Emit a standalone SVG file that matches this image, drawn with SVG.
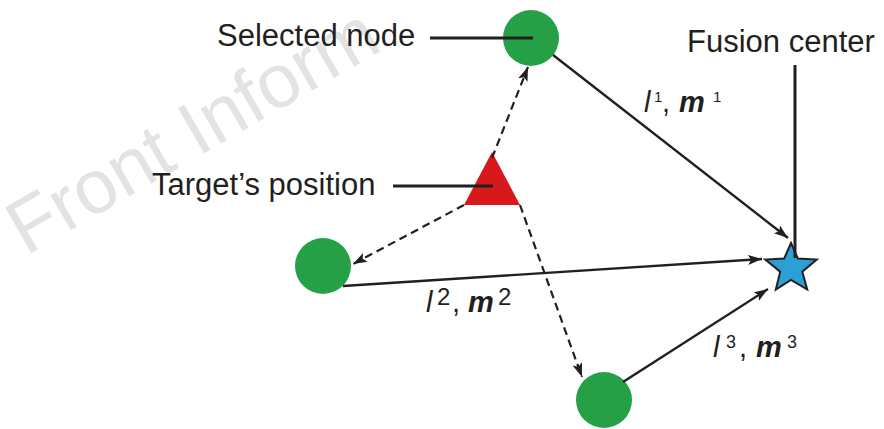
<svg xmlns="http://www.w3.org/2000/svg" width="884" height="429" viewBox="0 0 884 429">
<style>
.lbl{font-family:"Liberation Sans",Arial,sans-serif;font-size:31px;fill:#231f20}
.math{font-family:"Liberation Sans",Arial,sans-serif;font-size:29px;fill:#231f20;font-style:italic}
.b{font-weight:bold}
.sup{font-style:normal}
.node{fill:#25a046}
.conn{stroke:#231f20;stroke-width:2.4;fill:none}
.dash{stroke:#231f20;stroke-width:2.2;fill:none;stroke-dasharray:8 5}
.lead{stroke:#231f20;stroke-width:3;fill:none}
</style>
<defs>
<marker id="ah" markerUnits="userSpaceOnUse" markerWidth="16" markerHeight="12" refX="14" refY="5" orient="auto">
<path d="M0,0 L14,5 L0,10 L3,5 Z" fill="#231f20"/>
</marker>
</defs>
<text x="26" y="256" transform="rotate(-30 26 256)" style="font-family:'Liberation Sans',Arial,sans-serif;font-size:76px;fill:#e3e3e3">Front Inform</text>
<g id="target">
<polygon points="492,152 464,205 520,205" fill="#d7191c"/>
</g>
<g id="node1">
<circle class="node" cx="531" cy="38" r="28"/>
</g>
<g id="node2">
<circle class="node" cx="323" cy="266" r="28"/>
</g>
<g id="node3">
<circle class="node" cx="604" cy="400" r="28"/>
</g>
<g id="fusion">
<polygon points="791,243 797.9,258.6 816.7,259.6 802.3,271.7 807.2,289.5 791,280 775.8,289.5 780.2,271.7 765.3,259.6 784.1,258.6" fill="#2ba0d7" stroke="#231f20" stroke-width="2"/>
</g>
<g id="connectors">
<line class="conn" x1="553" y1="55" x2="788" y2="238" marker-end="url(#ah)"/>
<line class="conn" x1="343" y1="286" x2="762" y2="259" marker-end="url(#ah)"/>
<line class="conn" x1="623" y1="382" x2="768" y2="289" marker-end="url(#ah)"/>
<line class="dash" x1="492" y1="158" x2="528" y2="67" marker-end="url(#ah)"/>
<line class="dash" x1="464" y1="205" x2="353" y2="264" marker-end="url(#ah)"/>
<line class="dash" x1="520" y1="205" x2="582" y2="377" marker-end="url(#ah)"/>
<line class="lead" x1="430" y1="38" x2="533" y2="38"/>
<line class="lead" x1="393" y1="186" x2="493" y2="186"/>
<line class="lead" x1="795" y1="65" x2="795" y2="258"/>
</g>
<g id="labels">
<text class="lbl" x="217" y="46">Selected node</text>
<text class="lbl" x="152" y="195">Target’s position</text>
<text class="lbl" x="687" y="52">Fusion center</text>
<text class="math" y="112"><tspan x="644">l</tspan><tspan x="654" y="102" class="sup" font-size="15">1</tspan><tspan x="662" y="112" class="sup">,</tspan><tspan x="679" class="b">m</tspan><tspan x="713" y="102" class="sup" font-size="15">1</tspan></text>
<text class="math" y="312"><tspan x="426">l</tspan><tspan x="437" y="305" class="sup" font-size="24">2</tspan><tspan x="452" y="312" class="sup">,</tspan><tspan x="468" class="b">m</tspan><tspan x="498" y="305" class="sup" font-size="24">2</tspan></text>
<text class="math" y="357"><tspan x="713">l</tspan><tspan x="726" y="348" class="sup" font-size="18">3</tspan><tspan x="739" y="357" class="sup">,</tspan><tspan x="756" class="b">m</tspan><tspan x="787" y="348" class="sup" font-size="18">3</tspan></text>
</g>
</svg>
